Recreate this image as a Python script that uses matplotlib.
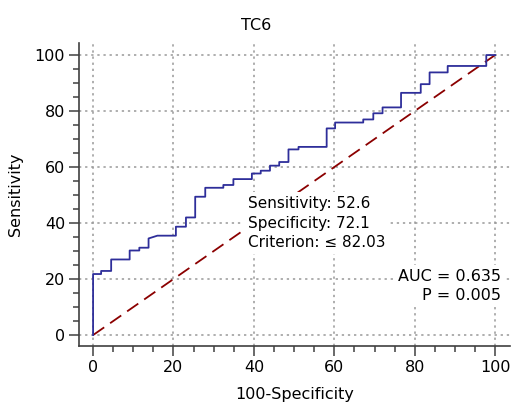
import matplotlib.pyplot as plt
from matplotlib.ticker import MultipleLocator

# ROC curve vertices (100-Specificity, Sensitivity)
fpr = [0, 0, 2, 2, 4.5, 4.5, 9.1, 9.1, 11.5, 11.5, 13.8, 13.8, 16, 20.6, 20.6,
       23.1, 23.1, 25.4, 25.4, 27.9, 27.9, 32.4, 32.4, 34.9, 34.9, 39.5, 39.5,
       41.7, 41.7, 44, 44, 46.3, 46.3, 48.6, 48.6, 51.1, 51.1, 58.1, 58.1,
       60.2, 60.2, 67.2, 67.2, 69.7, 69.7, 72, 72, 76.6, 76.6, 81.5, 81.5,
       83.7, 83.7, 88.2, 88.2, 97.8, 97.8, 100]
tpr = [0, 21.8, 21.8, 22.9, 22.9, 27, 27, 30.2, 30.2, 31.2, 31.2, 34.5, 35.5,
       35.5, 38.7, 38.7, 42, 42, 49.4, 49.4, 52.6, 52.6, 53.6, 53.6, 55.7,
       55.7, 57.7, 57.7, 58.7, 58.7, 60.5, 60.5, 61.8, 61.8, 66.3, 66.3, 67.2,
       67.2, 73.8, 73.8, 75.9, 75.9, 77, 77, 79.2, 79.2, 81.3, 81.3, 86.5,
       86.5, 89.6, 89.6, 93.8, 93.8, 96.1, 96.1, 100, 100]
ref_line = [0, 100]

plt.rcParams['font.family'] = 'DejaVu Sans'
fig = plt.figure(figsize=(5.12, 4.05), dpi=100)
ax = fig.add_axes([79 / 512, 1 - 346 / 405, 431 / 512, 303 / 405])

ax.plot(fpr, tpr, color='#2e2e9a', lw=1.3, zorder=3)
ax.plot(ref_line, ref_line, color='#8b0000', lw=1.3, dashes=(7.5, 4), zorder=2)

ax.set_xlim(-3.5, 103.7)
ax.set_ylim(-3.9, 104.3)
ax.xaxis.set_major_locator(MultipleLocator(20))
ax.xaxis.set_minor_locator(MultipleLocator(5))
ax.yaxis.set_major_locator(MultipleLocator(20))
ax.yaxis.set_minor_locator(MultipleLocator(5))
ax.grid(True, which='major', color='#999999', lw=1.1, linestyle=(0, (1.5, 2.5)))
ax.set_axisbelow(True)

for s in ['top', 'right']:
    ax.spines[s].set_visible(False)
for s in ['left', 'bottom']:
    ax.spines[s].set_color('#404040')
    ax.spines[s].set_linewidth(1.2)
ax.tick_params(which='major', length=7, width=1.1, color='#404040', labelsize=11.5, pad=3)
ax.tick_params(which='minor', length=4, width=1.1, color='#404040')

ax.set_xlabel('100-Specificity', fontsize=11.5, labelpad=9)
ax.set_ylabel('Sensitivity', fontsize=11.5, labelpad=8)
fig.text(0.5, 1 - 25 / 405, 'TC6', ha='center', va='center', fontsize=11.5)

ax.text(38.5, 40, 'Sensitivity: 52.6\nSpecificity: 72.1\nCriterion: \u2264 82.03',
        fontsize=11, va='center', ha='left', linespacing=1.35, zorder=4,
        bbox=dict(facecolor='white', edgecolor='none', pad=3))
ax.text(101.5, 17.5, 'AUC = 0.635\nP = 0.005', fontsize=11.5, va='center', ha='right',
        linespacing=1.3, zorder=4,
        bbox=dict(facecolor='white', edgecolor='none', pad=3))

fig.savefig('out.png', dpi=100)
